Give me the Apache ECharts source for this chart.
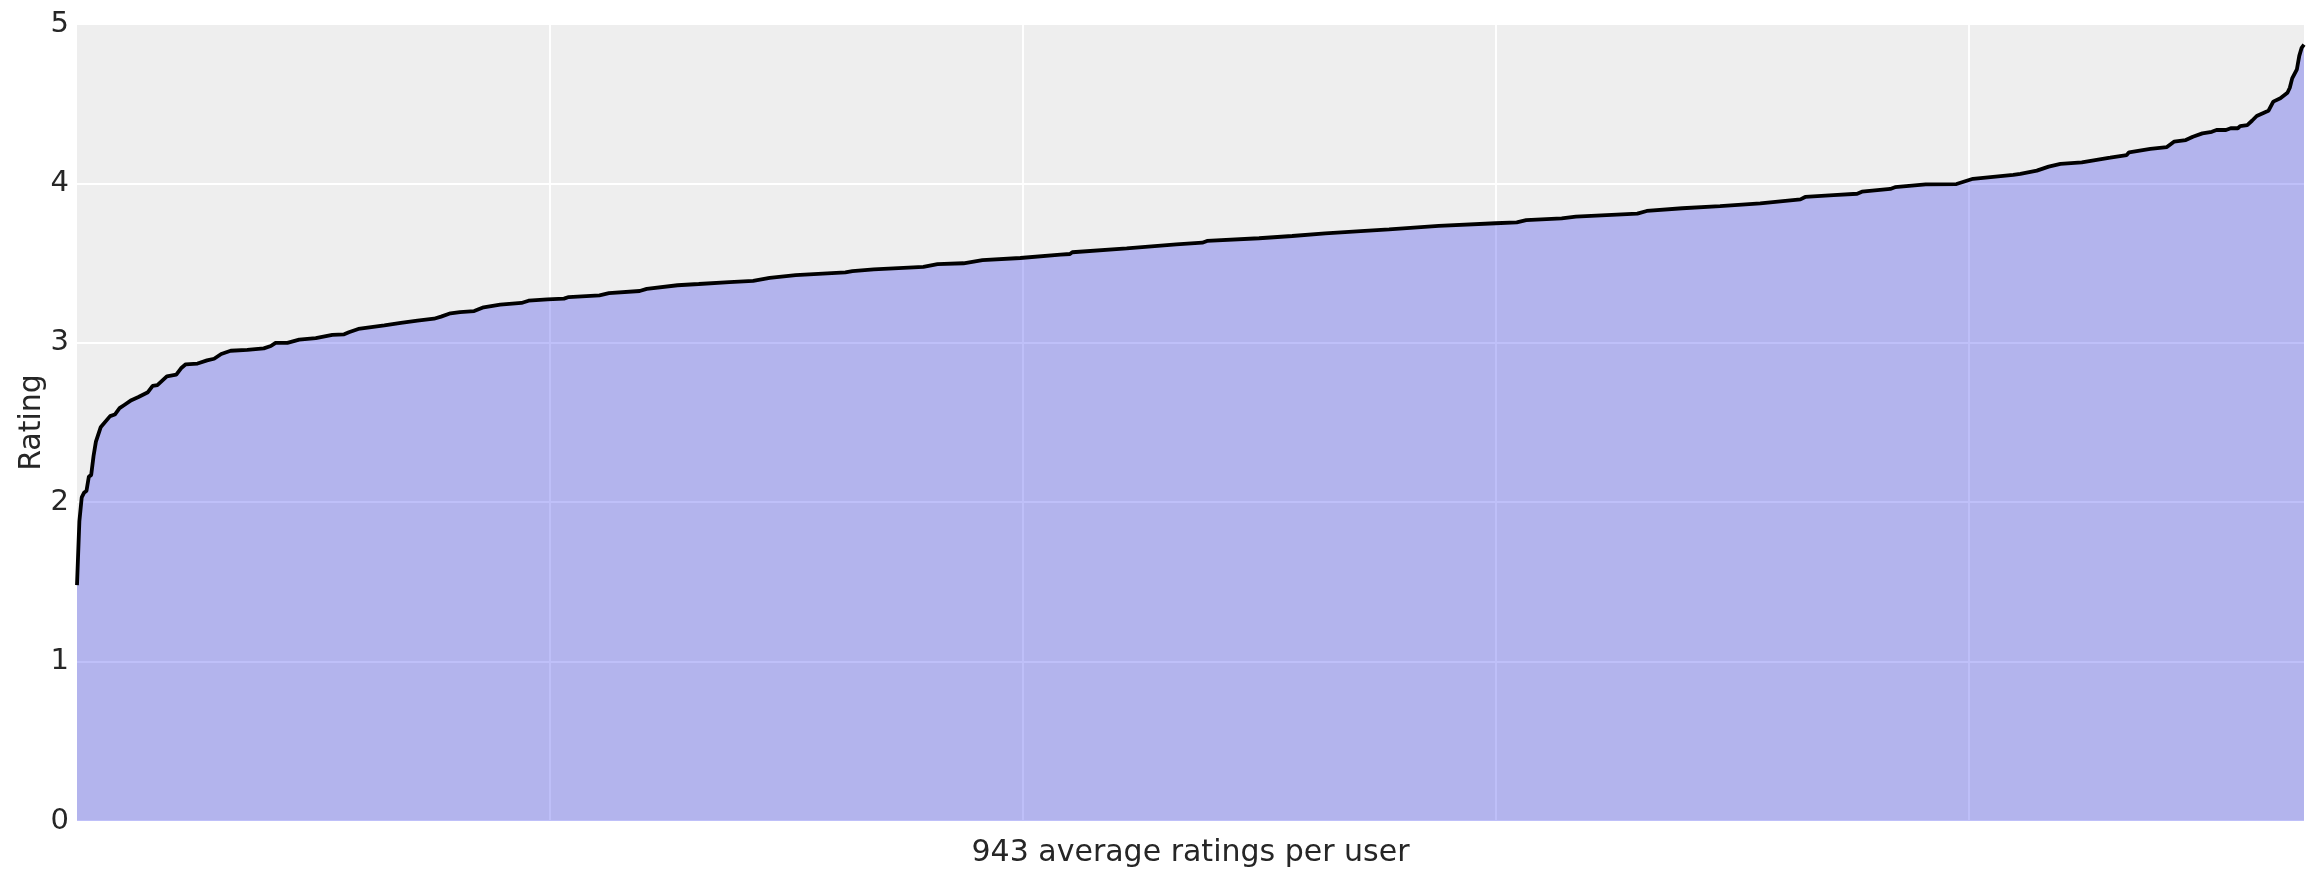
<!DOCTYPE html>
<html>
<head>
<meta charset="utf-8">
<script src="https://cdn.jsdelivr.net/npm/echarts@6/dist/echarts.min.js"></script>
<style>
  html, body { margin: 0; padding: 0; background: #ffffff; }
  #chart { width: 2320px; height: 880px; }
</style>
</head>
<body>
<div id="chart"></div>
<script>
// Sorted average rating per user (user rank index -> average rating)
const userIndex = [0,1,2,3,4,5,6,7,8,10,14,16,18,20,23,26,30,32,34,38,42,44,46,51,55,58,61,65,72,79,82,84,89,94,101,108,113,115,119,130,137,144,151,154,158,162,168,172,179,188,191,199,206,208,221,225,238,241,254,263,276,286,293,304,325,328,337,358,364,375,383,399,416,420,421,444,465,476,478,500,514,528,543,555,576,600,609,613,628,634,660,664,679,695,712,729,731,743,753,755,767,769,782,795,802,819,822,829,834,839,848,860,867,868,877,884,887,892,895,899,903,905,909,911,914,915,918,920,922,926,927,929,932,935,936,937,939,940,941,942];
const avgRating = [1.48,1.88,2.03,2.06,2.07,2.16,2.17,2.29,2.38,2.47,2.54,2.55,2.59,2.61,2.64,2.66,2.69,2.73,2.735,2.79,2.80,2.84,2.865,2.87,2.89,2.90,2.93,2.95,2.955,2.965,2.98,3.00,3.00,3.02,3.03,3.05,3.053,3.066,3.087,3.11,3.125,3.139,3.151,3.164,3.185,3.193,3.199,3.223,3.239,3.25,3.264,3.273,3.277,3.287,3.298,3.311,3.325,3.338,3.361,3.369,3.381,3.388,3.407,3.424,3.442,3.45,3.461,3.476,3.494,3.499,3.519,3.532,3.553,3.557,3.568,3.593,3.618,3.628,3.639,3.656,3.67,3.687,3.701,3.712,3.733,3.75,3.756,3.769,3.781,3.791,3.81,3.827,3.844,3.858,3.875,3.90,3.915,3.927,3.935,3.948,3.965,3.976,3.994,3.996,4.029,4.053,4.06,4.08,4.105,4.122,4.132,4.161,4.178,4.195,4.216,4.228,4.262,4.272,4.293,4.314,4.324,4.335,4.335,4.346,4.346,4.36,4.366,4.393,4.423,4.45,4.456,4.513,4.534,4.569,4.60,4.659,4.716,4.80,4.85,4.87];
const nUsers = 943;
const yTicks = [0, 1, 2, 3, 4, 5];
const xLabel = nUsers + ' average ratings per user';
const yLabel = 'Rating';

const seriesData = userIndex.map((u, k) => [u, avgRating[k]]);

const chart = echarts.init(document.getElementById('chart'), null, { renderer: 'canvas' });
const textColor = '#262626';
const font = 'DejaVu Sans';

chart.setOption({
  animation: false,
  backgroundColor: '#ffffff',
  grid: {
    left: 77, right: 16, top: 24, bottom: 59,
    show: true, backgroundColor: '#eeeeee', borderWidth: 0
  },
  xAxis: {
    type: 'value',
    min: 0, max: nUsers - 1, interval: 200,
    name: xLabel,
    nameLocation: 'middle',
    nameGap: 17,
    nameMoveOverlap: false,
    nameTextStyle: { color: textColor, fontSize: 30, fontFamily: font },
    axisLine: { show: false },
    axisTick: { show: false },
    axisLabel: { show: false },
    splitLine: { show: true, showMinLine: false, showMaxLine: false, lineStyle: { color: '#ffffff', width: 1.8 } }
  },
  yAxis: {
    type: 'value',
    min: yTicks[0], max: yTicks[yTicks.length - 1], interval: 1,
    name: yLabel,
    nameLocation: 'middle',
    nameRotate: 90,
    nameGap: 30,
    nameMoveOverlap: false,
    nameTextStyle: { color: textColor, fontSize: 30, fontFamily: font },
    axisLine: { show: false },
    axisTick: { show: false },
    axisLabel: { color: textColor, fontSize: 29, fontFamily: font, margin: 8 },
    splitLine: { show: true, lineStyle: { color: '#ffffff', width: 1.8 } }
  },
  series: [{
    type: 'line',
    data: seriesData,
    showSymbol: false,
    symbol: 'none',
    smooth: false,
    lineStyle: { color: '#000000', width: 3.8 },
    areaStyle: { color: '#2a2eec', opacity: 0.3, origin: 'start' },
    z: 3
  }]
});
</script>
</body>
</html>
